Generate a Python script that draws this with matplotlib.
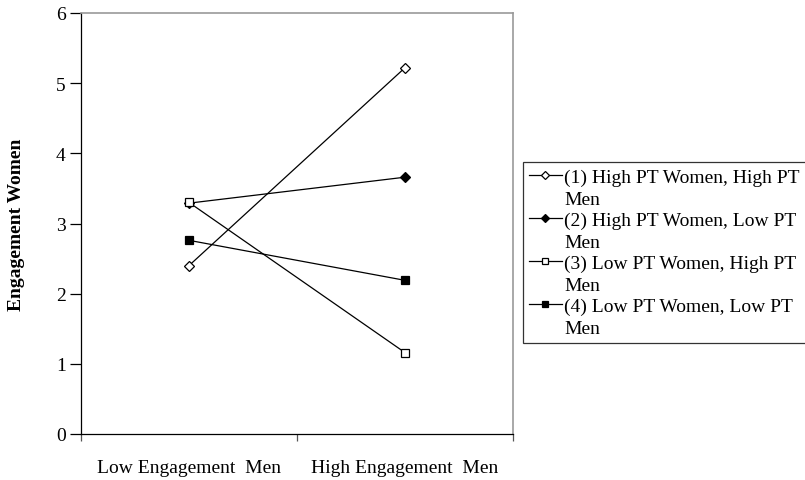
import matplotlib.pyplot as plt
from matplotlib.lines import Line2D

# data
categories = ['Low Engagement  Men', 'High Engagement  Men']
series_names = ['(1) High PT Women, High PT',
                '(2) High PT Women, Low PT',
                '(3) Low PT Women, High PT',
                '(4) Low PT Women, Low PT']
name_wrap = 'Men'
s1 = [2.40, 5.22]
s2 = [3.29, 3.66]
s3 = [3.30, 1.16]
s4 = [2.76, 2.19]

plt.rcParams['font.family'] = ['Liberation Serif', 'DejaVu Serif']
FS = 14

fig = plt.figure(figsize=(8.05, 4.81), dpi=100)
ax = fig.add_axes([81 / 805, 46 / 481, 432 / 805, 421 / 481])

xs = [0.5, 1.5]
styles = [('D', 'white'), ('D', 'black'), ('s', 'white'), ('s', 'black')]
handles = []
labels = []
for vals, name, (m, fc) in zip([s1, s2, s3, s4], series_names, styles):
    ln, = ax.plot(xs, vals, color='black', lw=0.9, marker=m, markersize=5.2 if m == 'D' else 5.5,
                  markerfacecolor=fc, markeredgecolor='black', markeredgewidth=0.9)
    handles.append(ln)
    labels.append(name)
    # second line of the wrapped label, no handle
    handles.append(Line2D([], [], color='none'))
    labels.append(name_wrap)

ax.set_xlim(0, 2)
ax.set_ylim(0, 6)
ax.set_yticks(range(0, 7))
ax.set_xticks([0, 1, 2])
ax.set_xticklabels([])
ax.set_xticks(xs, minor=True)
ax.set_xticklabels(categories, minor=True)
ax.tick_params(axis='x', which='minor', length=0, pad=18, labelsize=FS)
ax.tick_params(axis='x', which='major', direction='out', length=5, width=0.9, color='#555555')
ax.tick_params(axis='y', direction='out', length=8, width=0.9, labelsize=FS, pad=3)

for side in ['left', 'bottom']:
    ax.spines[side].set_color('black')
    ax.spines[side].set_linewidth(0.9)
for side in ['top', 'right']:
    ax.spines[side].set_color('#999999')
    ax.spines[side].set_linewidth(1.2)

ax.set_ylabel('Engagement Women', fontsize=FS, fontweight='bold')
ax.yaxis.set_label_coords((25 - 81) / 432, 0.5)

leg = ax.legend(handles, labels, loc='upper left', bbox_to_anchor=(523 / 805, 1 - 163 / 481),
                bbox_transform=fig.transFigure, borderaxespad=0, frameon=True,
                fancybox=False, edgecolor='black', fontsize=FS, handlelength=1.65,
                handletextpad=0.15, labelspacing=0.2, borderpad=0.33, markerscale=0.8)
leg.get_frame().set_linewidth(0.9)

plt.savefig('out.png', dpi=100)
